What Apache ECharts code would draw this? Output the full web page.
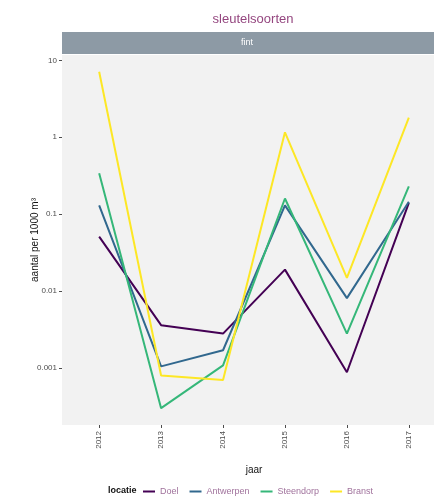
<!DOCTYPE html>
<html>
<head>
<meta charset="utf-8">
<script src="https://cdn.jsdelivr.net/npm/echarts@6/dist/echarts.min.js"></script>
<style>
  html, body { margin: 0; padding: 0; background: #ffffff; }
  #chart { width: 434px; height: 501px; }
</style>
</head>
<body>
<div id="chart"></div>
<script>
// Jaarlijkse dichtheid van fint per locatie (aantal per 1000 m³, log-schaal)
const jaren = [2012, 2013, 2014, 2015, 2016, 2017];
const yTicks = [0.001, 0.01, 0.1, 1, 10];
const yTickLabels = ['0.001', '0.01', '0.1', '1', '10'];
const locaties = ['Doel', 'Antwerpen', 'Steendorp', 'Branst'];

const doel      = [0.051, 0.0036, 0.0028, 0.019, 0.00088, 0.14];
const antwerpen = [0.13, 0.00105, 0.0017, 0.13, 0.0081, 0.145];
const steendorp = [0.34, 0.0003, 0.00108, 0.16, 0.0028, 0.23];
const branst    = [7.1, 0.0008, 0.0007, 1.16, 0.0148, 1.8];

const reeksen = [doel, antwerpen, steendorp, branst];
const kleuren = ['#440154', '#31688E', '#35B779', '#FDE725'];

// y-bereik: datavolume + 5% marge in log-ruimte
const alle = reeksen.flat().map(v => Math.log10(v));
const lmin = Math.min(...alle), lmax = Math.max(...alle);
const marge = (lmax - lmin) * 0.05;
const yMin = Math.pow(10, lmin - marge);
const yMax = Math.pow(10, lmax + marge);

const chart = echarts.init(document.getElementById('chart'), null, { renderer: 'canvas' });

const gridLeft = 62, gridTop = 55, gridWidth = 384, gridHeight = 370;

chart.setOption({
  backgroundColor: '#ffffff',
  animation: false,
  title: [
    {
      text: 'sleutelsoorten',
      left: 248, top: 8, textAlign: 'center',
      textStyle: { color: '#94467F', fontSize: 13, fontWeight: 'normal', fontFamily: 'Liberation Sans' }
    },
    {
      text: 'locatie',
      left: 103, top: 481,
      textStyle: { color: '#111111', fontSize: 9, fontWeight: 'bold', fontFamily: 'Liberation Sans' }
    }
  ],
  graphic: [
    {
      type: 'rect', left: gridLeft, top: 32, z: 0,
      shape: { width: 434 - gridLeft, height: 22 },
      style: { fill: '#8D9AA5' }
    },
    {
      type: 'text', left: 241, top: 38, z: 1,
      style: { text: 'fint', fill: '#ffffff', fontSize: 9, fontFamily: 'Liberation Sans' }
    }
  ],
  legend: {
    data: locaties,
    left: 138, top: 482,
    icon: 'rect',
    itemWidth: 12, itemHeight: 2, itemGap: 11,
    textStyle: { color: '#A0729C', fontSize: 9, fontFamily: 'Liberation Sans' }
  },
  grid: {
    left: gridLeft, top: gridTop, width: gridWidth, height: gridHeight,
    outerBoundsMode: 'none', containLabel: false,
    show: true, backgroundColor: '#F2F2F2', borderWidth: 0
  },
  xAxis: {
    type: 'value',
    min: jaren[0] - 0.6, max: jaren[jaren.length - 1] + 0.6,
    name: 'jaar', nameLocation: 'middle', nameGap: 40, nameMoveOverlap: false,
    nameTextStyle: { color: '#111111', fontSize: 10, fontFamily: 'Liberation Sans' },
    axisLine: { show: false },
    splitLine: { show: false },
    axisTick: { show: true, length: 3, lineStyle: { color: '#4D4D4D' }, customValues: jaren },
    axisLabel: {
      customValues: jaren, rotate: 90, color: '#4D4D4D', fontSize: 8, margin: 6,
      fontFamily: 'Liberation Sans', formatter: v => String(v)
    }
  },
  yAxis: {
    type: 'log', logBase: 10,
    min: yMin, max: yMax,
    name: 'aantal per 1000 m³', nameLocation: 'middle', nameGap: 22, nameMoveOverlap: false,
    nameTextStyle: { color: '#111111', fontSize: 10, fontFamily: 'Liberation Sans' },
    axisLine: { show: false },
    splitLine: { show: false },
    axisTick: { show: true, length: 3, lineStyle: { color: '#4D4D4D' }, customValues: yTicks },
    axisLabel: {
      customValues: yTicks, color: '#4D4D4D', fontSize: 8, margin: 5,
      fontFamily: 'Liberation Sans',
      formatter: v => yTickLabels[yTicks.findIndex(t => Math.abs(Math.log10(t) - Math.log10(v)) < 1e-6)] || ''
    }
  },
  series: locaties.map((naam, i) => ({
    name: naam,
    type: 'line',
    data: jaren.map((j, k) => [j, reeksen[i][k]]),
    symbol: 'none',
    lineStyle: { color: kleuren[i], width: 2 },
    itemStyle: { color: kleuren[i] },
    z: 2 + i
  }))
});
</script>
</body>
</html>
